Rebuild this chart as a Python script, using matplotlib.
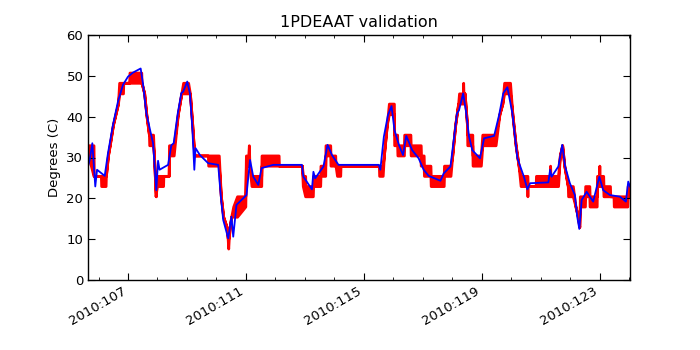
import matplotlib
matplotlib.use('Agg')
import matplotlib.pyplot as plt
from matplotlib.ticker import FixedLocator, MultipleLocator, FuncFormatter

# model (blue), day of year 2010 vs degC
model_day = [105.65, 105.70, 105.79, 105.89, 105.95, 106.09, 106.21, 106.32, 106.49, 106.66,
             106.83, 107.00, 107.17, 107.43, 107.51, 107.62, 107.85, 107.96, 108.02, 108.07,
             108.36, 108.47, 108.55, 108.69, 108.81, 108.87, 109.01, 109.10, 109.18, 109.25,
             109.29, 109.44, 109.72, 110.06, 110.15, 110.23, 110.40, 110.51, 110.57, 110.68,
             111.02, 111.14, 111.25, 111.42, 111.53, 111.93, 112.90, 112.95, 113.24, 113.29,
             113.35, 113.63, 113.77, 113.92, 114.14, 115.04, 115.51, 115.56, 115.68, 115.82,
             115.94, 116.04, 116.19, 116.33, 116.44, 116.64, 116.86, 117.03, 117.20, 117.60,
             117.71, 117.94, 118.05, 118.16, 118.23, 118.37, 118.46, 118.57, 118.68, 118.94,
             119.08, 119.42, 119.59, 119.73, 119.87, 120.04, 120.21, 120.43, 120.55, 120.64,
             121.26, 121.32, 121.37, 121.60, 121.73, 121.83, 121.99, 122.16, 122.24, 122.31,
             122.39, 122.56, 122.78, 122.99, 123.12, 123.35, 123.69, 123.89, 123.97, 124.03]
model_temp = [28.0, 29.4, 33.5, 22.9, 27.0, 26.2, 25.5, 31.0, 38.0, 43.7,
              47.8, 49.8, 50.8, 51.8, 48.0, 40.9, 33.5, 22.0, 29.2, 27.0,
              28.2, 33.0, 33.5, 40.9, 45.8, 46.1, 48.6, 45.7, 37.5, 27.0,
              32.3, 30.6, 28.6, 28.2, 20.4, 14.7, 10.2, 15.5, 10.6, 18.4,
              20.8, 29.4, 25.3, 23.3, 27.4, 28.2, 28.2, 25.3, 22.2, 26.5,
              24.9, 27.8, 33.1, 30.6, 28.2, 28.2, 28.2, 27.0, 35.1, 40.4,
              42.6, 36.7, 33.1, 30.6, 35.3, 31.8, 29.8, 27.0, 25.5, 24.3,
              26.1, 27.8, 34.3, 40.8, 41.6, 45.7, 41.6, 35.1, 31.8, 29.8,
              34.7, 35.3, 40.4, 45.7, 47.2, 40.8, 29.8, 25.3, 22.2, 23.7,
              23.9, 27.0, 25.3, 27.8, 33.1, 27.8, 23.7, 20.8, 15.5, 12.5,
              19.6, 21.6, 19.2, 25.3, 22.0, 20.8, 20.4, 19.2, 24.1, 22.9]

# telemetry (red): quantized, flickers between lo and hi where they differ
tlm_day = [105.65, 105.83, 105.84, 106.08, 106.09, 106.24, 106.25, 106.32, 106.38, 106.49,
           106.66, 106.70, 106.83, 106.84, 107.04, 107.05, 107.45, 107.46, 107.55, 107.62,
           107.71, 107.72, 107.85, 107.88, 107.94, 107.97, 107.99, 108.19, 108.20, 108.38,
           108.39, 108.55, 108.69, 108.81, 108.87, 109.04, 109.10, 109.18, 109.25, 109.71,
           109.72, 110.08, 110.15, 110.23, 110.35, 110.38, 110.40, 110.42, 110.45, 110.50,
           110.57, 110.70, 110.98, 111.00, 111.08, 111.10, 111.12, 111.19, 111.52, 111.53,
           112.11, 112.12, 112.90, 112.93, 113.01, 113.02, 113.27, 113.28, 113.52, 113.53,
           113.69, 113.70, 113.86, 113.87, 114.03, 114.04, 114.09, 114.20, 114.21, 115.51,
           115.52, 115.64, 115.68, 115.78, 115.85, 116.02, 116.03, 116.13, 116.14, 116.36,
           116.37, 116.58, 116.59, 116.92, 116.93, 116.94, 117.03, 117.04, 117.26, 117.27,
           117.71, 117.72, 117.94, 118.00, 118.10, 118.20, 118.23, 118.36, 118.37, 118.38,
           118.42, 118.50, 118.51, 118.68, 118.69, 118.97, 119.02, 119.47, 119.60, 119.70,
           119.76, 119.96, 120.04, 120.15, 120.25, 120.32, 120.54, 120.55, 120.56, 120.83,
           120.84, 121.31, 121.32, 121.33, 121.59, 121.65, 121.73, 121.80, 121.92, 121.93,
           122.09, 122.18, 122.26, 122.31, 122.33, 122.50, 122.51, 122.65, 122.66, 122.90,
           122.91, 122.98, 122.99, 123.00, 123.12, 123.13, 123.35, 123.36, 123.47, 123.48,
           123.94, 123.95, 124.03]
tlm_lo = [30.5, 25.5, 25.5, 25.5, 23.0, 23.0, 25.5, 30.5, 33.0, 38.0,
          43.2, 45.7, 45.7, 48.3, 48.3, 48.3, 48.3, 48.3, 45.7, 40.6,
          35.6, 33.0, 33.0, 30.5, 20.5, 23.0, 23.0, 23.0, 25.5, 25.5,
          30.5, 30.5, 40.6, 45.7, 45.7, 45.7, 45.7, 38.0, 30.5, 30.5,
          28.0, 28.0, 20.5, 15.5, 12.9, 10.3, 7.7, 10.3, 12.9, 15.5,
          15.5, 15.5, 18.0, 28.0, 28.0, 28.0, 28.0, 23.0, 23.0, 28.0,
          28.0, 28.0, 28.0, 23.0, 20.5, 20.5, 20.5, 23.0, 23.0, 25.5,
          25.5, 30.5, 30.5, 28.0, 28.0, 28.0, 25.5, 25.5, 28.0, 28.0,
          25.5, 25.5, 30.5, 38.0, 40.6, 40.6, 33.0, 33.0, 30.5, 30.5,
          33.0, 33.0, 30.5, 30.5, 28.0, 28.0, 28.0, 25.5, 25.5, 23.0,
          23.0, 25.5, 25.5, 30.5, 38.0, 43.2, 43.2, 43.2, 43.2, 43.2,
          45.7, 38.0, 33.0, 33.0, 28.0, 28.0, 33.0, 33.0, 40.6, 43.2,
          45.7, 45.7, 40.6, 33.0, 28.0, 23.0, 23.0, 20.5, 23.0, 23.0,
          23.0, 23.0, 23.0, 23.0, 23.0, 30.5, 33.0, 28.0, 23.0, 20.5,
          20.5, 18.0, 15.5, 13.0, 18.0, 18.0, 20.5, 20.5, 18.0, 18.0,
          23.0, 23.0, 23.0, 23.0, 23.0, 20.5, 20.5, 20.5, 20.5, 18.0,
          18.0, 20.5, 20.5]
tlm_hi = [33.0, 33.0, 25.5, 25.5, 25.5, 25.5, 25.5, 30.5, 33.0, 38.0,
          43.2, 48.3, 48.3, 48.3, 48.3, 50.8, 50.8, 48.3, 45.7, 40.6,
          35.6, 35.6, 35.6, 30.5, 20.5, 23.0, 25.5, 25.5, 25.5, 25.5,
          33.0, 33.0, 40.6, 45.7, 48.3, 48.3, 45.7, 38.0, 30.5, 30.5,
          30.5, 30.5, 20.5, 15.5, 12.9, 10.3, 10.3, 10.3, 12.9, 15.5,
          18.0, 20.5, 20.5, 30.5, 30.5, 33.0, 28.0, 25.5, 25.5, 30.5,
          30.5, 28.0, 28.0, 25.5, 25.5, 23.0, 23.0, 25.5, 25.5, 28.0,
          28.0, 33.0, 33.0, 30.5, 30.5, 28.0, 28.0, 28.0, 28.0, 28.0,
          28.0, 28.0, 30.5, 38.0, 43.2, 43.2, 35.6, 35.6, 33.0, 33.0,
          35.6, 35.6, 33.0, 33.0, 33.0, 30.5, 30.5, 28.0, 28.0, 25.5,
          25.5, 28.0, 28.0, 30.5, 38.0, 43.2, 45.7, 45.7, 48.3, 45.7,
          45.7, 38.0, 35.6, 35.6, 30.5, 30.5, 35.6, 35.6, 40.6, 43.2,
          48.3, 48.3, 40.6, 33.0, 28.0, 25.5, 25.5, 25.5, 23.0, 23.0,
          25.5, 25.5, 28.0, 25.5, 25.5, 30.5, 33.0, 28.0, 23.0, 23.0,
          23.0, 18.0, 15.5, 13.0, 20.5, 20.5, 23.0, 23.0, 20.5, 20.5,
          25.5, 25.5, 28.0, 25.5, 25.5, 23.0, 23.0, 20.5, 20.5, 20.5,
          20.5, 23.0, 23.0]

label_days = [107, 111, 115, 119, 123]

fig, ax = plt.subplots(figsize=(7, 3.5), dpi=100)
fig.subplots_adjust(left=0.126, right=0.9, top=0.9, bottom=0.2)

ax.fill_between(tlm_day, tlm_lo, tlm_hi, facecolor='r', edgecolor='r', linewidth=2.0)
ax.plot(model_day, model_temp, color='b', linewidth=1.3)

ax.set_xlim(105.65, 124.03)
ax.set_ylim(0, 60)
ax.xaxis.set_major_locator(FixedLocator(label_days))
ax.xaxis.set_minor_locator(MultipleLocator(1))
ax.xaxis.set_major_formatter(FuncFormatter(lambda v, p: '2010:%03d' % round(v)))
ax.yaxis.set_major_locator(MultipleLocator(10))

ax.tick_params(which='both', direction='in', top=True, right=True, labelsize=9.5)
ax.tick_params(which='major', length=5, width=0.8)
ax.tick_params(which='minor', length=2.5, width=0.6)
for s in ax.spines.values():
    s.set_linewidth(1.0)
plt.setp(ax.get_xticklabels(), rotation=30, ha='right')

ax.set_ylabel('Degrees (C)', fontsize=9.5)
ax.set_title('1PDEAAT validation', fontsize=11.5)

fig.savefig('out.png', dpi=100, facecolor='white')
